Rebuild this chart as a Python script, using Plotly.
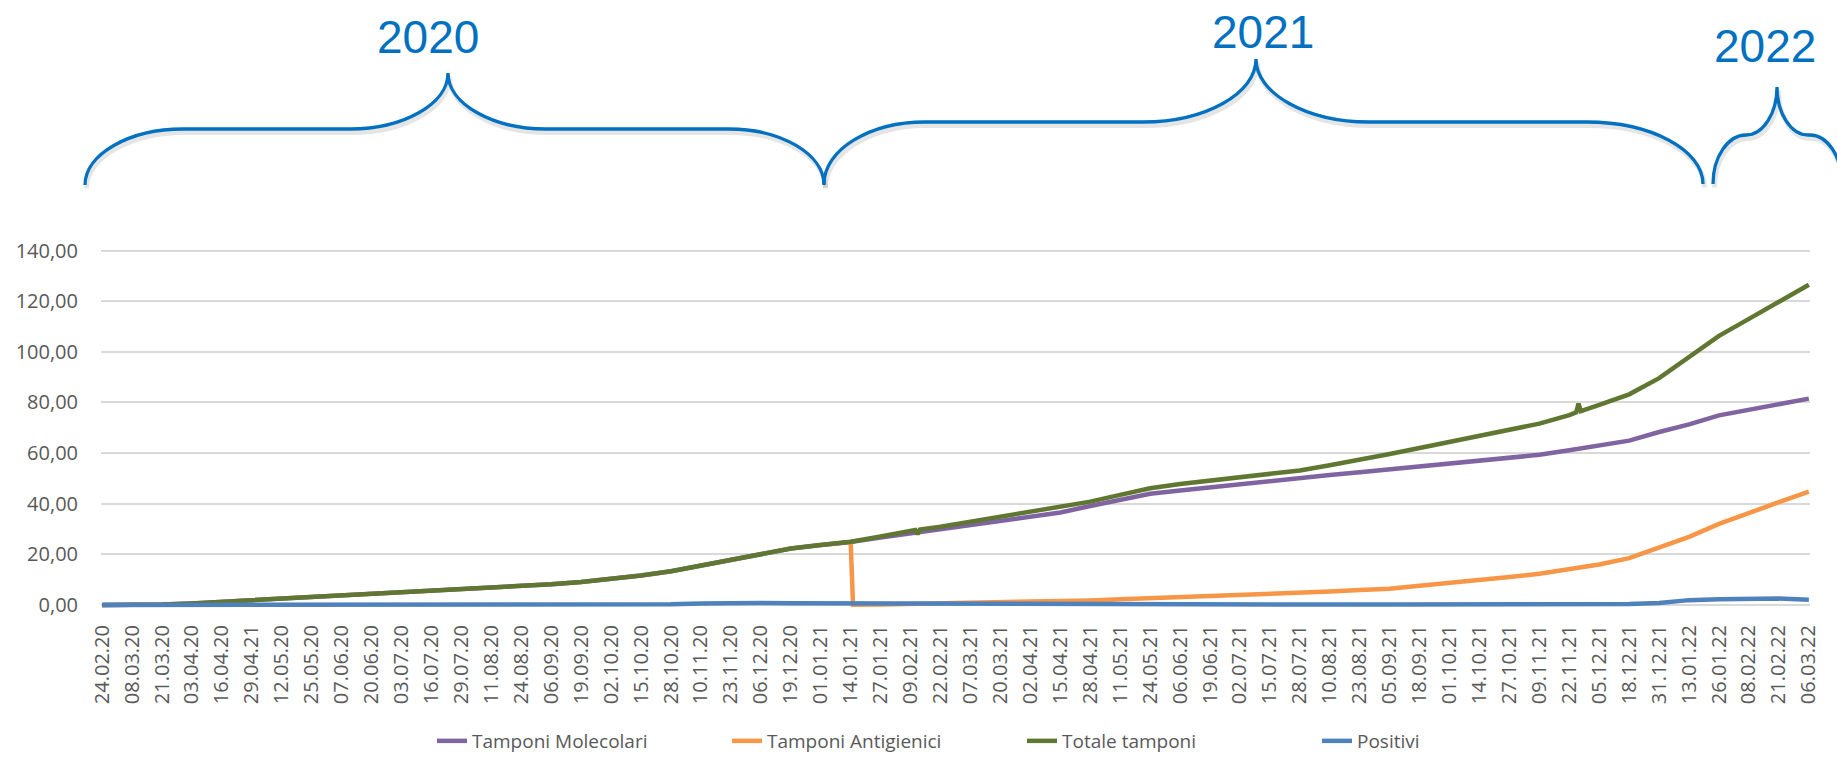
import pandas as pd
import plotly.graph_objects as go

# ---- category labels (every 13 days from 24.02.2020) ----
tick_text = [
    "24.02.20", "08.03.20", "21.03.20", "03.04.20", "16.04.20", "29.04.21", "12.05.20", "25.05.20",
    "07.06.20", "20.06.20", "03.07.20", "16.07.20", "29.07.20", "11.08.20", "24.08.20", "06.09.20",
    "19.09.20", "02.10.20", "15.10.20", "28.10.20", "10.11.20", "23.11.20", "06.12.20", "19.12.20",
    "01.01.21", "14.01.21", "27.01.21", "09.02.21", "22.02.21", "07.03.21", "20.03.21", "02.04.21",
    "15.04.21", "28.04.21", "11.05.21", "24.05.21", "06.06.21", "19.06.21", "02.07.21", "15.07.21",
    "28.07.21", "10.08.21", "23.08.21", "05.09.21", "18.09.21", "01.10.21", "14.10.21", "27.10.21",
    "09.11.21", "22.11.21", "05.12.21", "18.12.21", "31.12.21", "13.01.22", "26.01.22", "08.02.22",
    "21.02.22", "06.03.22",
]
tick_dates = pd.date_range("2020-02-24", periods=len(tick_text), freq="13D")

# ---- series values at the label dates ----
totale = [
    0.0, 0.05, 0.2, 0.6, 1.2, 1.9, 2.6, 3.3, 4.0, 4.6, 5.1, 5.6, 6.1, 6.7, 7.4, 8.2,
    9.1, 10.2, 11.6, 13.3, 15.6, 17.9, 20.3, 22.3, 23.7, 25.0, 27.0, 29.0, 30.9, 32.9,
    34.7, 36.6, 38.6, 40.8, 43.5, 46.1, 47.8, 49.2, 50.5, 51.8, 53.1, 55.2, 57.3, 59.6,
    62.0, 64.5, 66.9, 69.4, 71.6, 75.0, 79.0, 83.2, 89.6, 98.2, 106.3, 113.0, 119.8, 126.5,
]
# single-day anomalies in the total series
totale_extra_dates = ["2021-02-11", "2021-02-12", "2021-02-13", "2021-11-25", "2021-11-26", "2021-11-27"]
totale_extra_vals = [29.6, 27.9, 29.8, 76.1, 79.5, 76.6]

molecolari = [
    0.0, 0.05, 0.2, 0.6, 1.2, 1.9, 2.6, 3.3, 4.0, 4.6, 5.1, 5.6, 6.1, 6.7, 7.4, 8.2,
    9.1, 10.2, 11.6, 13.3, 15.6, 17.9, 20.3, 22.3, 23.7, 24.9, 26.6, 28.3, 30.0, 31.8,
    33.3, 34.8, 36.5, 39.1, 41.5, 43.9, 45.2, 46.5, 47.6, 48.8, 50.1, 51.3, 52.4, 53.6,
    54.7, 55.8, 56.9, 58.0, 59.3, 61.1, 63.0, 64.9, 68.3, 71.3, 74.9, 77.0, 79.5, 81.5,
]

# antigen tests start on 14.01.2021 (first reported value equals the total)
antigienici_start_dates = ["2021-01-14", "2021-01-15"]
antigienici_start_vals = [24.6, 0.1]
antigienici = [
    0.2, 0.4, 0.5, 0.7, 0.9, 1.2, 1.5, 1.8, 2.2, 2.6, 3.0, 3.4, 3.9, 4.3, 4.8, 5.3,
    5.9, 6.4, 7.6, 8.6, 9.6, 11.0, 12.3, 14.0, 16.0, 18.5, 22.5, 26.9, 32.0, 36.5,
    40.6, 44.8,
]

positivi = [
    0.0, 0.01, 0.04, 0.09, 0.11, 0.10, 0.08, 0.05, 0.04, 0.02, 0.02, 0.01, 0.01, 0.02, 0.02, 0.03,
    0.05, 0.06, 0.10, 0.25, 0.55, 0.79, 0.74, 0.62, 0.57, 0.56, 0.48, 0.41, 0.39, 0.47,
    0.55, 0.57, 0.51, 0.45, 0.36, 0.28, 0.16, 0.09, 0.05, 0.05, 0.10, 0.13, 0.14, 0.13,
    0.10, 0.09, 0.08, 0.08, 0.10, 0.15, 0.22, 0.35, 0.80, 1.90, 2.25, 2.25, 2.50, 2.05,
]

years = ["2020", "2021", "2022"]

# ---- build traces ----
s_tot = pd.concat([
    pd.Series(totale, index=tick_dates),
    pd.Series(totale_extra_vals, index=pd.to_datetime(totale_extra_dates)),
]).sort_index()
s_mol = pd.Series(molecolari, index=tick_dates)
ant_idx = tick_dates[tick_dates > pd.Timestamp("2021-01-15")]
s_ant = pd.concat([
    pd.Series(antigienici_start_vals, index=pd.to_datetime(antigienici_start_dates)),
    pd.Series(antigienici, index=ant_idx),
]).sort_index()
s_pos = pd.Series(positivi, index=tick_dates)

C_MOL, C_ANT, C_TOT, C_POS = "#8064A2", "#F79646", "#607732", "#4F81BD"
LW = 4.5

fig = go.Figure()
for name, s, col in [
    ("Tamponi Molecolari", s_mol, C_MOL),
    ("Tamponi Antigienici", s_ant, C_ANT),
    ("Totale tamponi", s_tot, C_TOT),
    ("Positivi", s_pos, C_POS),
]:
    fig.add_trace(go.Scatter(
        x=s.index, y=s.values, name=name, mode="lines",
        line=dict(color=col, width=LW, shape="linear"),
        hoverinfo="x+y+name",
    ))

# ---- geometry of the plotting area (pixels) ----
W, H = 1837, 757
ML, MR, MT, MB = 101, 27, 248, 147
PW, PH = W - ML - MR, H - MT - MB


def px(x, y):
    """pixel position -> paper coordinates"""
    return (x - ML) / PW, (H - MB - y) / PH


def brace(tip_l, tip_r, cusp_x, cusp_y, level, sh_l, sh_r, inner_w, dx=0.0, dy=0.0):
    """curly brace built from cubic curves (pixel inputs)"""
    k = 0.55
    (xl, yb), xr = tip_l, tip_r

    def P(x, y):
        a, b = px(x + dx, y + dy)
        return f"{a:.5f},{b:.5f}"

    h1 = yb - level
    w1 = sh_l - xl
    w2 = xr - sh_r
    h2 = level - cusp_y
    in_l = cusp_x - inner_w
    in_r = cusp_x + inner_w
    path = f"M{P(xl, yb)} C{P(xl, yb - k * h1)} {P(sh_l - k * w1, level)} {P(sh_l, level)}"
    path += f" L{P(in_l, level)}"
    path += f" C{P(in_l + k * inner_w, level)} {P(cusp_x, cusp_y + k * h2)} {P(cusp_x, cusp_y)}"
    path += f" C{P(cusp_x, cusp_y + k * h2)} {P(in_r - k * inner_w, level)} {P(in_r, level)}"
    path += f" L{P(sh_r, level)}"
    path += f" C{P(sh_r + k * w2, level)} {P(xr, yb - k * h1)} {P(xr, yb)}"
    return path


BLUE = "#0070C0"
shapes = []
brace_specs = [
    # tip_l, tip_r, cusp_x, cusp_y, level, shoulder_l, shoulder_r, inner half-width
    ((85, 185), 824, 448, 73, 129, 183, 729, 98),
    ((824, 184), 1703, 1256, 59, 122, 925, 1587, 113),
    ((1713, 184), 1842, 1777, 87, 135, 1746, 1810, 31),
]
for tip_l, tip_r, cx, cy, lev, sl, sr, iw in brace_specs:
    shapes.append(dict(type="path", xref="paper", yref="paper", layer="above",
                       path=brace(tip_l, tip_r, cx, cy, lev, sl, sr, iw, dx=1.5, dy=3.5),
                       line=dict(color="rgba(0,0,0,0.10)", width=5)))
    shapes.append(dict(type="path", xref="paper", yref="paper", layer="above",
                       path=brace(tip_l, tip_r, cx, cy, lev, sl, sr, iw),
                       line=dict(color=BLUE, width=3.3)))

annotations = []
for txt, (x, y) in zip(years, [(428, 37), (1263, 32), (1765, 46)]):
    ax_, ay_ = px(x, y)
    annotations.append(dict(
        text=txt, x=ax_, y=ay_, xref="paper", yref="paper", showarrow=False,
        xanchor="center", yanchor="middle",
        font=dict(family="Liberation Sans, Arial", size=46, color=BLUE),
    ))

TICK_FONT = dict(family="Open Sans, Liberation Sans", size=20, color="#595959")

fig.update_layout(
    width=W, height=H,
    margin=dict(l=ML, r=MR, t=MT, b=MB, pad=0, autoexpand=False),
    paper_bgcolor="white", plot_bgcolor="white",
    separators=",.",
    showlegend=True,
    legend=dict(
        orientation="h", x=px(432, 0)[0], y=px(0, 741)[1],
        xanchor="left", yanchor="middle",
        entrywidth=250, entrywidthmode="pixels",
        font=dict(family="Open Sans, Liberation Sans", size=19, color="#595959"),
        bgcolor="rgba(0,0,0,0)", borderwidth=0,
    ),
    shapes=shapes,
    annotations=annotations,
    xaxis=dict(
        type="date",
        range=["2020-02-23 12:00", "2022-03-06 12:00"],
        tickvals=tick_dates, ticktext=tick_text,
        tickangle=-90, tickfont=TICK_FONT,
        showgrid=False, zeroline=False, showline=False, ticks="",
        ticklabelstandoff=10, automargin=False,
    ),
    yaxis=dict(
        range=[-2, 141], tickvals=[0, 20, 40, 60, 80, 100, 120, 140],
        tickformat=".2f", tickfont=TICK_FONT,
        showgrid=True, gridcolor="#D9D9D9", gridwidth=1.5,
        zeroline=True, zerolinecolor="#D9D9D9", zerolinewidth=1.5,
        showline=False, ticks="",
        ticklabelstandoff=22, automargin=False,
    ),
)

fig.write_html("out.html")
